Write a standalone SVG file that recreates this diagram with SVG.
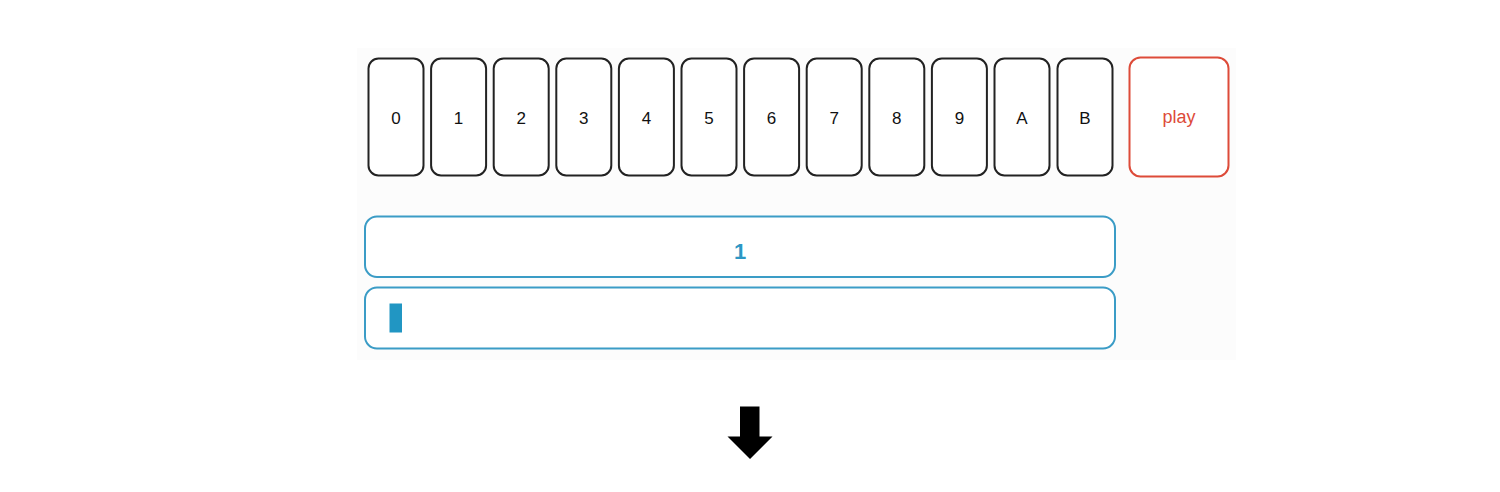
<svg xmlns="http://www.w3.org/2000/svg" width="1500" height="492" viewBox="0 0 1500 492">
<style>
.card{fill:#ffffff;stroke:#222;stroke-width:2}
.ct{font-family:"Liberation Sans",Arial,sans-serif;font-size:17px;fill:#111;text-anchor:middle}
.play{fill:#ffffff;stroke:#dd4b39;stroke-width:2}
.pt{font-family:"Liberation Sans",Arial,sans-serif;font-size:18px;fill:#dd4b39;text-anchor:middle}
.inp{fill:#ffffff;stroke:#3b9cc6;stroke-width:2}
.it{font-family:"Liberation Sans",Arial,sans-serif;font-size:22px;font-weight:bold;fill:#2d97c4;text-anchor:middle}
</style>
<rect x="0" y="0" width="1500" height="492" fill="#ffffff"/>
<rect x="357" y="48" width="879" height="312" fill="#fcfcfc"/>
<g id="card-0"><rect class="card" x="368.5" y="58.5" width="55" height="117" rx="10"/><text class="ct" x="396" y="124">0</text></g>
<g id="card-1"><rect class="card" x="431.1" y="58.5" width="55" height="117" rx="10"/><text class="ct" x="458.6" y="124">1</text></g>
<g id="card-2"><rect class="card" x="493.7" y="58.5" width="55" height="117" rx="10"/><text class="ct" x="521.2" y="124">2</text></g>
<g id="card-3"><rect class="card" x="556.3" y="58.5" width="55" height="117" rx="10"/><text class="ct" x="583.8" y="124">3</text></g>
<g id="card-4"><rect class="card" x="618.9" y="58.5" width="55" height="117" rx="10"/><text class="ct" x="646.4" y="124">4</text></g>
<g id="card-5"><rect class="card" x="681.5" y="58.5" width="55" height="117" rx="10"/><text class="ct" x="709" y="124">5</text></g>
<g id="card-6"><rect class="card" x="744.1" y="58.5" width="55" height="117" rx="10"/><text class="ct" x="771.6" y="124">6</text></g>
<g id="card-7"><rect class="card" x="806.7" y="58.5" width="55" height="117" rx="10"/><text class="ct" x="834.2" y="124">7</text></g>
<g id="card-8"><rect class="card" x="869.3" y="58.5" width="55" height="117" rx="10"/><text class="ct" x="896.8" y="124">8</text></g>
<g id="card-9"><rect class="card" x="931.9" y="58.5" width="55" height="117" rx="10"/><text class="ct" x="959.4" y="124">9</text></g>
<g id="card-A"><rect class="card" x="994.5" y="58.5" width="55" height="117" rx="10"/><text class="ct" x="1022" y="124">A</text></g>
<g id="card-B"><rect class="card" x="1057.5" y="58.5" width="55" height="117" rx="10"/><text class="ct" x="1085" y="124">B</text></g>
<g id="play"><rect class="play" x="1129.5" y="57.5" width="99" height="119" rx="11"/><text class="pt" x="1179" y="123">play</text></g>
<g id="display"><rect class="inp" x="365" y="216.5" width="750" height="60.5" rx="12"/><text class="it" x="740" y="259">1</text></g>
<g id="input"><rect class="inp" x="365" y="287.5" width="750" height="61" rx="12"/><rect x="389.5" y="303.5" width="12.5" height="29" fill="#2196c3"/></g>
<g id="connectors"><polygon points="740,406.5 759.5,406.5 759.5,436.5 772.5,436.5 750,459 727.5,436.5 740,436.5" fill="#000"/></g>
</svg>
